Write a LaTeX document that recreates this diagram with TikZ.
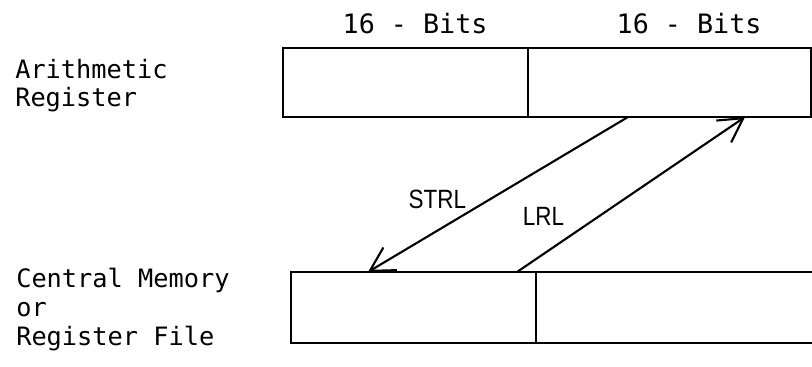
\documentclass[tikz,border=0pt]{standalone}
\usepackage{fontspec}
\usepackage{tikz}
\usetikzlibrary{arrows.meta, positioning}
\newfontfamily\regfont{DejaVu Sans Mono}
\newfontfamily\oplblfont[FakeStretch=0.85]{Liberation Sans}

\tikzset{
  cell/.style={draw, line width=1.7pt, inner sep=0, outer sep=0, anchor=north west},
  sidelbl/.style={font=\regfont\fontsize{18}{20.6}\selectfont, align=left, inner sep=0},
  bitslbl/.style={font=\regfont\fontsize{19}{22}\selectfont, inner sep=0},
  oplbl/.style={font=\oplblfont\fontsize{18.8}{22}\selectfont, inner sep=0},
  transfer/.style={->, >={Straight Barb[length=0.59cm, width=0.66cm]}, line width=1.5pt}
}

\begin{document}
\begin{tikzpicture}

  \useasboundingbox (0, 0) rectangle (20.3, 9.15);

  % registers
  \node[cell, minimum width=6.125cm, minimum height=1.725cm] (ar1) at (7.075, 7.95) {};
  \node[cell, minimum width=7.075cm, minimum height=1.725cm, right=0cm of ar1] (ar2) {};

  \node[cell, minimum width=6.125cm, minimum height=1.775cm] (mem1) at (7.275, 2.35) {};
  \node[cell, minimum width=7.5cm, minimum height=1.775cm, right=0cm of mem1] (mem2) {};

  \node[bitslbl, anchor=base] (bits1) at ([xshift=0.24cm, yshift=0.35cm]ar1.north) {16 - Bits};
  \node[bitslbl, anchor=base] (bits2) at ([xshift=0.49cm, yshift=0.35cm]ar2.north) {16 - Bits};

  % base is on the last line
  \node[sidelbl, anchor=base west] (arlbl) at (0.375, 6.475) {Arithmetic\\Register};
  \node[sidelbl, anchor=base west] (memlbl) at (0.4, 0.525) {Central Memory\\or\\Register File};

  % transfers
  \draw[transfer] ([xshift=2.5cm]ar2.south west) --
        node[oplbl, pos=0.588, anchor=base east, xshift=-0.2cm] (strl) {STRL}
        ([xshift=1.925cm]mem1.north west);
  \draw[transfer] ([xshift=5.65cm]mem1.north west) --
        node[oplbl, pos=0.303, anchor=base east, xshift=-0.525cm] (lrl) {LRL}
        ([xshift=5.425cm]ar2.south west);

\end{tikzpicture}
\end{document}
